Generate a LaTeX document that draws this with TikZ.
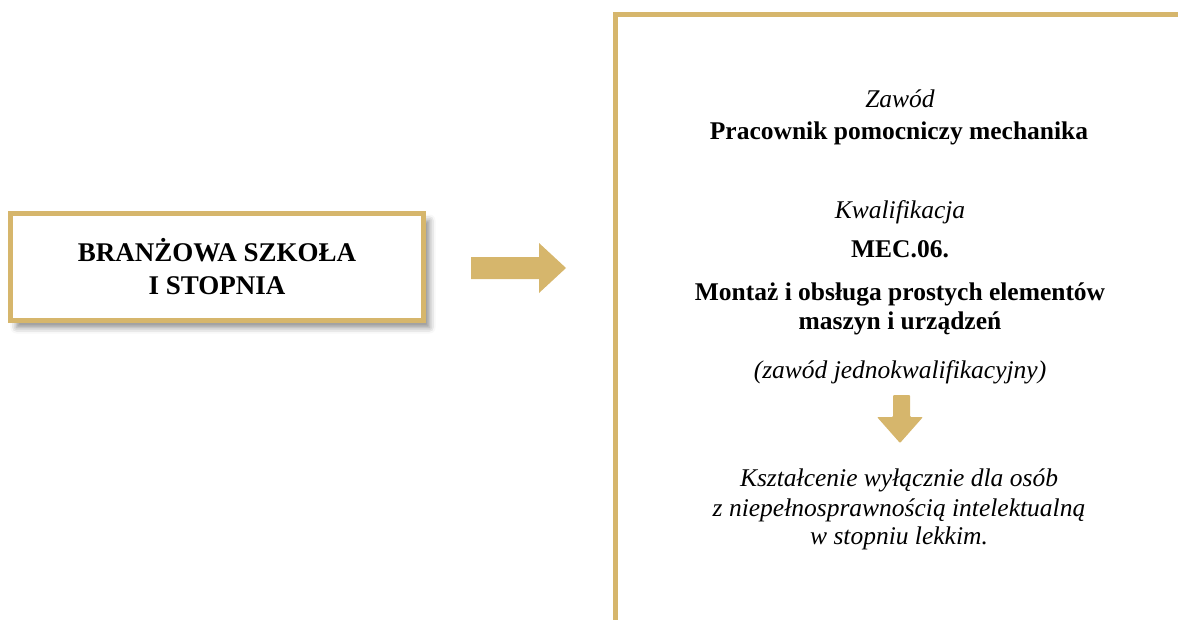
\documentclass[tikz,border=0pt]{standalone}
\usepackage{fontspec}
\setmainfont{Liberation Serif}
\usepackage{xcolor}
\usetikzlibrary{calc,positioning,shadows.blur}
\definecolor{zloty}{RGB}{214,182,108}
\tikzset{
	szkolabox/.style={draw=zloty, line width=5pt, fill=white, minimum width=413pt, minimum height=107pt, align=center, font=\fontsize{27}{33}\selectfont\bfseries, blur shadow={shadow xshift=6pt, shadow yshift=-7pt, shadow blur radius=6pt, shadow opacity=45}},
	ramka/.style={draw=zloty, line width=5pt},
	strzalka/.style={fill=zloty, draw=none},
	wiersz/.style={anchor=base, inner sep=0pt, font=\fontsize{25.5}{30}\selectfont},
	kursywa/.style={wiersz, font=\fontsize{25.5}{30}\selectfont\itshape},
	gruby/.style={wiersz, font=\fontsize{25.5}{30}\selectfont\bfseries}
}
\begin{document}
\begin{tikzpicture}[x=1pt, y=-1pt]
		\useasboundingbox (0,0) rectangle (1178,619);
		\clip (0,0) rectangle (1178,619);
		\node[szkolabox] (szkola) at (217,267) {BRANŻOWA SZKOŁA\\I STOPNIA};
		\draw[ramka] (615.5,640) -- (615.5,14) -- (1200,14);
		\coordinate (s1) at (471,268);
		\fill[strzalka] ($(s1)+(0,-11)$) -- ++(68,0) -- ++(0,-14) -- (566,268) -- (539,293) -- ++(0,-14) -- ($(s1)+(0,11)$) -- cycle;
		\node[kursywa] (zawod) at (900,107) {Zawód};
		\node[gruby] (nazwa) at (899,139) {Pracownik pomocniczy mechanika};
		\node[kursywa] (kwal) at (900,218) {Kwalifikacja};
		\node[gruby] (kod) at (900,257) {MEC.06.};
		\node[gruby] (opis1) at (900,300) {Montaż i obsługa prostych elementów};
		\node[gruby] (opis2) at (900,329) {maszyn i urządzeń};
		\node[kursywa] (jedno) at (900,378) {(zawód jednokwalifikacyjny)};
		\coordinate (s2) at (901.5,395);
		\fill[strzalka, rounded corners=1pt] ($(s2)+(-8.5,0)$) -- ++(17,0) -- ++(0,22) -- (923,417) -- (900,443) -- (877,417) -- (893,417) -- cycle;
		\node[kursywa] (uwaga1) at (899,486) {Kształcenie wyłącznie dla osób};
		\node[kursywa] (uwaga2) at (899,516) {z niepełnosprawnością intelektualną};
		\node[kursywa] (uwaga3) at (899,544) {w stopniu lekkim.};
		\end{tikzpicture}
\end{document}
